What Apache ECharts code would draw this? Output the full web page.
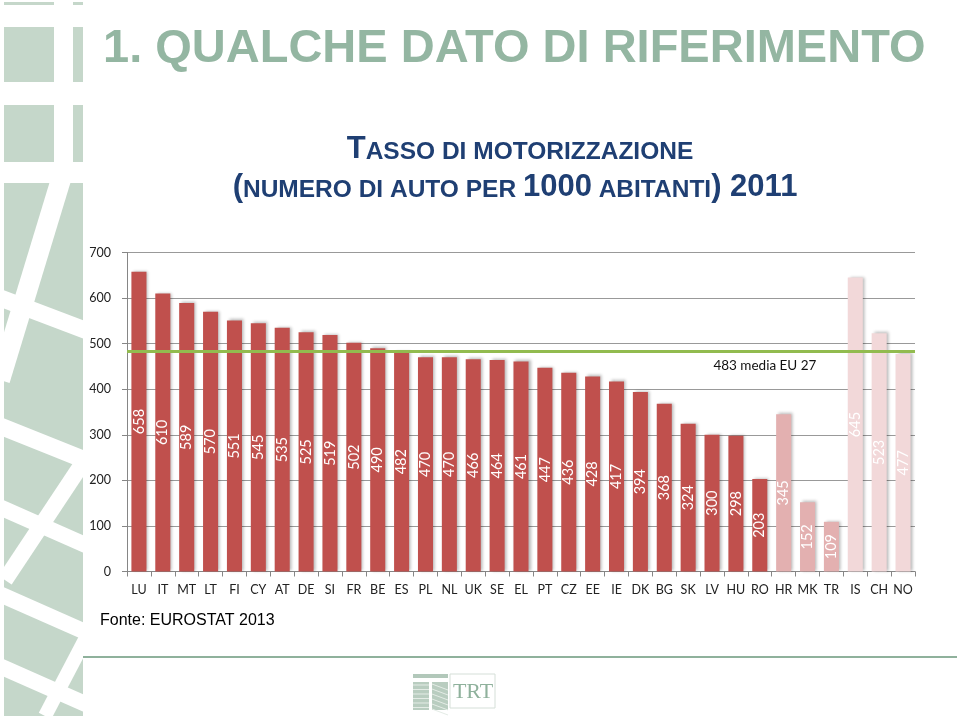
<!DOCTYPE html>
<html><head><meta charset="utf-8">
<script src="https://cdn.jsdelivr.net/npm/echarts@6/dist/echarts.min.js"></script>
<style>html,body{margin:0;padding:0;background:#fff}#c{width:960px;height:716px}</style>
</head><body><div id="c"></div>
<script>
// ---- data ----
const countries = ['LU','IT','MT','LT','FI','CY','AT','DE','SI','FR','BE','ES','PL','NL','UK','SE','EL','PT','CZ','EE','IE','DK','BG','SK','LV','HU','RO','HR','MK','TR','IS','CH','NO'];
const carsPer1000 = [658,610,589,570,551,545,535,525,519,502,490,482,470,470,466,464,461,447,436,428,417,394,368,324,300,298,203,345,152,109,645,523,477];
const candidateCountries = ['HR','MK','TR'];
const eftaCountries = ['IS','CH','NO'];
const euAverage = 483;
const euAverageLabel = '483 media EU 27';
const yAxisMin = 0, yAxisMax = 700, yAxisInterval = 100;
const titleText = '1. QUALCHE DATO DI RIFERIMENTO';
const sourceText = 'Fonte: EUROSTAT 2013';

// ---- styles ----
const SAGE = '#c5d7ca';
const RED = '#c0504d', PINK = '#e3b0b0', LIGHTPINK = '#f2d8d9';

function barColor(c){
  if (candidateCountries.includes(c)) return PINK;
  if (eftaCountries.includes(c)) return LIGHTPINK;
  return RED;
}
const barData = carsPer1000.map((v,i)=>({value:v, itemStyle:{color:barColor(countries[i])}}));

// decorative left strip
const deco = [];
deco.push({type:'rect', shape:{x:4,y:2,width:50,height:3}, style:{fill:SAGE}, silent:true});
deco.push({type:'rect', shape:{x:73,y:2,width:10,height:3}, style:{fill:SAGE}, silent:true});
deco.push({type:'rect', shape:{x:4,y:27,width:50,height:55}, style:{fill:SAGE}, silent:true});
deco.push({type:'rect', shape:{x:73,y:27,width:10,height:55}, style:{fill:SAGE}, silent:true});
deco.push({type:'rect', shape:{x:4,y:105,width:50,height:57}, style:{fill:SAGE}, silent:true});
deco.push({type:'rect', shape:{x:73,y:105,width:10,height:57}, style:{fill:SAGE}, silent:true});
deco.push({type:'rect', shape:{x:4,y:183,width:79,height:533}, style:{fill:SAGE}, silent:true});
const whiteBands = [
  [[62,176],[0,380],20],
  [[-5,296],[90,332],17],
  [[-5,424],[90,462],17],
  [[88,455],[5,580],16],
  [[-5,505],[90,547],16],
  [[-5,592],[90,634],16],
  [[90,630],[45,716],14],
  [[-5,664],[90,706],16]
];
whiteBands.forEach(b=>deco.push({type:'line', shape:{x1:b[0][0],y1:b[0][1],x2:b[1][0],y2:b[1][1]}, style:{stroke:'#fff', lineWidth:b[2]}, silent:true}));
deco.push({type:'rect', shape:{x:0,y:0,width:4,height:716}, style:{fill:'#fff'}, silent:true});
// bottom rule
deco.push({type:'line', shape:{x1:83,y1:657,x2:957,y2:657}, style:{stroke:'#8fb19c', lineWidth:2}, silent:true});
// logo
deco.push({type:'rect', shape:{x:450,y:674,width:45,height:34}, style:{fill:'none', stroke:'#d5dfd8', lineWidth:1}, silent:true});
deco.push({type:'text', style:{text:'TRT', x:473, y:692, textAlign:'center', textVerticalAlign:'middle', font:'22px "Liberation Serif", serif', fill:'#8fb19c'}, silent:true});
deco.push({type:'rect', shape:{x:413,y:674,width:35,height:4}, style:{fill:'#b2c8ba'}, silent:true});
deco.push({type:'rect', shape:{x:413,y:682,width:16,height:28}, style:{fill:'#b9cdc0'}, silent:true});
deco.push({type:'rect', shape:{x:432,y:682,width:16,height:28}, style:{fill:'#b9cdc0'}, silent:true});
for (let k=0;k<6;k++){
  deco.push({type:'line', shape:{x1:413,y1:685+k*4.5,x2:429,y2:685+k*4.5}, style:{stroke:'#e4ece6', lineWidth:1}, silent:true});
  deco.push({type:'line', shape:{x1:432,y1:684+k*5,x2:448,y2:690+k*5}, style:{stroke:'#e4ece6', lineWidth:1}, silent:true});
}
// titles
const subFont = '"Liberation Sans Narrow", sans-serif';
const subRich = {
  b:{fontSize:31, fontWeight:'bold', fontFamily:subFont, fill:'#1f3f73', verticalAlign:'bottom'},
  s:{fontSize:24.5, fontWeight:'bold', fontFamily:subFont, fill:'#1f3f73', verticalAlign:'bottom'}
};
deco.push({type:'text', style:{text:titleText, x:103, y:49, textVerticalAlign:'middle', font:'bold 47px "Liberation Sans Narrow", "Arial Narrow", sans-serif', fill:'#94b6a2'}, silent:true});
deco.push({type:'text', style:{
  text:'{b|T}{s|ASSO DI MOTORIZZAZIONE}', x:520, y:149, textAlign:'center', textVerticalAlign:'middle', rich:subRich
}, silent:true});
deco.push({type:'text', style:{
  text:'{b|(}{s|NUMERO DI AUTO PER }{b|1000}{s| ABITANTI}{b|) 2011}', x:515, y:187, textAlign:'center', textVerticalAlign:'middle', rich:subRich
}, silent:true});
deco.push({type:'text', style:{text:sourceText, x:100, y:621, textVerticalAlign:'middle', font:'16px "Liberation Sans", Arial, sans-serif', fill:'#000'}, silent:true});

const chart = echarts.init(document.getElementById('c'), null, {renderer:'canvas'});
chart.setOption({
  animation:false,
  backgroundColor:'#fff',
  graphic: deco,
  grid:{left:127, right:45, top:252.5, bottom:144.5, containLabel:false},
  xAxis:{
    type:'category', data:countries,
    axisLine:{lineStyle:{color:'#868686', width:1}},
    axisTick:{show:true, alignWithLabel:false, length:5, lineStyle:{color:'#868686'}},
    axisLabel:{color:'#222', fontSize:12.5, fontFamily:'Lato, sans-serif', margin:12, interval:0}
  },
  yAxis:{
    type:'value', min:yAxisMin, max:yAxisMax, interval:yAxisInterval,
    axisLine:{show:true, lineStyle:{color:'#868686'}},
    axisTick:{show:true, length:5, lineStyle:{color:'#868686'}},
    axisLabel:{color:'#222', fontSize:12.5, fontFamily:'Lato, sans-serif', margin:16},
    splitLine:{lineStyle:{color:'#999', width:1}}
  },
  series:[{
    type:'bar', data:barData, barWidth:'63%',
    itemStyle:{shadowColor:'rgba(0,0,0,0.28)', shadowBlur:3, shadowOffsetX:2, shadowOffsetY:-1},
    label:{show:true, position:'inside', rotate:90, color:'#fff', fontSize:14.5, fontFamily:'Lato, sans-serif'},
    markLine:{
      silent:true, symbol:'none',
      lineStyle:{color:'#92bb4f', width:3, type:'solid'},
      label:{show:false},
      data:[{yAxis:euAverage}]
    },
    markPoint:{
      silent:true, symbol:'circle', symbolSize:0,
      label:{show:true, formatter:euAverageLabel, color:'#111', fontSize:13.5, fontFamily:'Lato, sans-serif', offset:[29,14]},
      data:[{coord:['HU', euAverage]}]
    }
  }]
});
</script>
</body></html>
